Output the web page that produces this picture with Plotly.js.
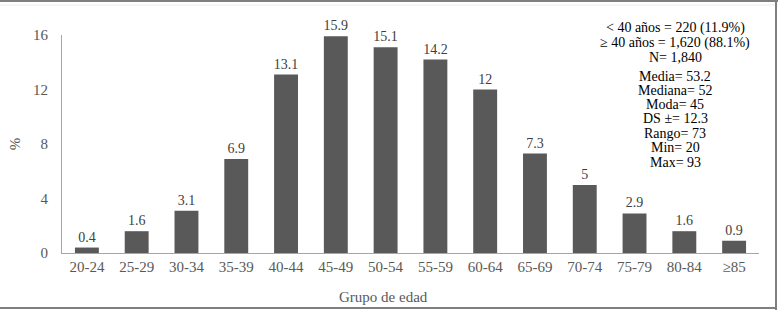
<!DOCTYPE html>
<html><head><meta charset="utf-8">
<script src="https://cdn.plot.ly/plotly-3.0.1.min.js"></script>
<style>html,body{margin:0;padding:0;background:#fff;}#c{width:778px;height:311px;}</style>
</head><body><div id="c"></div>
<script>
const categories = ["20-24","25-29","30-34","35-39","40-44","45-49","50-54","55-59","60-64","65-69","70-74","75-79","80-84","≥85"];
const percentages = [0.4,1.6,3.1,6.9,13.1,15.9,15.1,14.2,12,7.3,5,2.9,1.6,0.9];
const valueLabels = ["0.4","1.6","3.1","6.9","13.1","15.9","15.1","14.2","12","7.3","5","2.9","1.6","0.9"];
const yTicks = [0,4,8,12,16];
const statsLines = ["< 40 años = 220 (11.9%)","≥ 40 años = 1,620 (88.1%)","N= 1,840","Media= 53.2","Mediana= 52","Moda= 45","DS ±= 12.3","Rango= 73","Min= 20","Max= 93"];
const statsLineY = [28,43,57,76,90,104,118,133,147,162];

const fam = "Liberation Serif";
const plotTop = 35, plotH = 218, plotL = 62, plotW = 697;
const annotations = statsLines.map((t,i)=>({
  text: t, xref:'paper', yref:'paper', x: (675-plotL)/plotW, y: 1,
  xanchor:'center', yanchor:'middle', yshift: -(statsLineY[i]-plotTop),
  showarrow:false, font:{family:fam, size:14, color:'#000'}
}));
annotations.push({
  text:'Grupo de edad', xref:'paper', yref:'paper', x:(383-plotL)/plotW, y:0,
  xanchor:'center', yanchor:'middle', yshift:-(297-(plotTop+plotH)),
  showarrow:false, font:{family:fam, size:15, color:'#595959'}
});

const trace = {
  type:'bar', x: categories, y: percentages,
  text: valueLabels, textposition:'outside', cliponaxis:false, constraintext:'none',
  textfont:{family:fam, size:14, color:'#404040'},
  marker:{color:'#595959'}, hoverinfo:'none'
};
const layout = {
  width:778, height:311,
  margin:{l:62, r:19, t:35, b:58},
  paper_bgcolor:'#fff', plot_bgcolor:'#fff',
  bargap:0.52, showlegend:false,
  font:{family:fam, color:'#595959', size:14},
  xaxis:{type:'category', showline:true, linecolor:'#a6a6a6', linewidth:1, ticks:'', showgrid:false, zeroline:false,
    tickfont:{family:fam, size:15, color:'#595959'}},
  yaxis:{range:[0,16], tickvals:yTicks, showline:true, linecolor:'#a6a6a6', linewidth:1, ticks:'', showgrid:false, zeroline:false,
    tickfont:{family:fam, size:15, color:'#595959'}, ticklabelstandoff:10,
    title:{text:'%', font:{family:fam, size:15, color:'#595959'}, standoff:8}},
  annotations: annotations,
  shapes:[
    {type:'line', xref:'paper', yref:'paper', x0:-62/697, x1:1+19/697, y0:1+34/218, y1:1+34/218, line:{color:'#7f7f7f', width:2}},
    {type:'line', xref:'paper', yref:'paper', x0:-62/697, x1:1+19/697, y0:1+30/218, y1:1+30/218, line:{color:'#ececec', width:1}},
    {type:'line', xref:'paper', yref:'paper', x0:1+17/697, x1:1+17/697, y0:-57/218, y1:1+34/218, line:{color:'#7f7f7f', width:2}},
    {type:'line', xref:'paper', yref:'paper', x0:-62/697, x1:1+17/697, y0:-55/218, y1:-55/218, line:{color:'#7f7f7f', width:2}}
  ]
};
Plotly.newPlot('c',[trace],layout,{staticPlot:true, displayModeBar:false});
</script></body></html>
